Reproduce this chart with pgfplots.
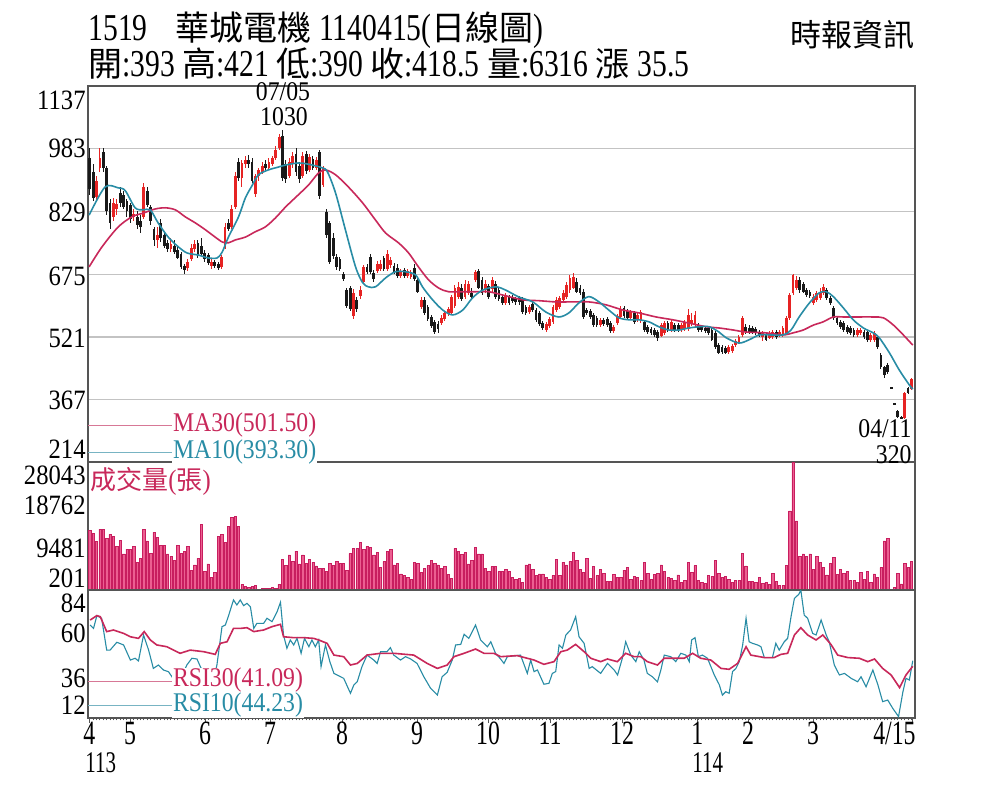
\documentclass[border=0pt]{standalone}
\usepackage{fontspec}
\setmainfont{Liberation Serif}
\newfontfamily\lbl[FakeStretch=0.88]{Liberation Serif}
\newfontfamily\ttl[FakeStretch=0.78]{Liberation Serif}
\newfontfamily\mon[FakeStretch=0.7]{Liberation Serif}
\newfontfamily\cjk{Noto Sans CJK TC}
\usepackage{pgfplots}
\usepackage{pgfplotstable}
\pgfplotsset{compat=1.18}
\definecolor{cred}{RGB}{230,35,35}
\definecolor{cblk}{RGB}{25,25,25}
\definecolor{ma30c}{RGB}{200,40,90}
\definecolor{ma10c}{RGB}{40,140,165}
\definecolor{ma30l}{RGB}{215,120,150}
\definecolor{ma10l}{RGB}{120,180,195}
\definecolor{gridc}{RGB}{195,195,195}
\definecolor{framec}{RGB}{85,85,85}
\definecolor{volf}{RGB}{236,95,145}
\definecolor{vold}{RGB}{200,30,95}
\newcommand\C[1]{{\cjk\fontsize{17pt}{17pt}\selectfont #1}}

\pgfplotstableread{
i o h l c v
0 960 985 870 885 13146
1 925 945 855 862 12420
2 865 915 858 905 10590
3 935 985 925 960 13360
4 975 985 925 935 13360
5 935 940 820 830 11320
6 850 860 785 800 12200
7 815 862 805 850 11830
8 835 860 820 848 9500
9 875 890 840 850 10950
10 870 880 835 840 7890
11 855 860 815 830 8980
12 845 850 800 810 8980
13 815 835 805 822 9640
14 815 830 785 795 6060
15 805 820 775 790 6940
16 815 900 810 890 13360
17 880 890 840 845 10740
18 840 845 795 805 8030
19 785 790 745 760 12640
20 760 790 740 770 11540
21 800 810 755 765 9860
22 770 780 740 745 9860
23 752 760 730 738 7890
24 738 765 730 748 7450
25 745 760 725 730 6570
26 735 745 712 715 9860
27 725 730 688 692 8030
28 695 700 675 685 8400
29 690 712 682 705 9640
30 712 748 708 740 4380
31 738 758 730 748 5480
32 752 760 715 722 6940
33 745 765 720 725 14390
34 728 735 705 713 4160
35 722 728 698 702 5700
36 695 712 688 705 2700
37 705 710 690 695 3870
38 700 705 685 690 11830
39 692 722 688 718 12200
40 745 800 738 790 10440
41 800 810 780 785 14020
42 790 845 785 835 15850
43 840 925 835 915 16210
44 950 960 905 910 13880
45 910 955 890 948 1240
46 945 965 935 955 730
47 955 968 935 945 510
48 950 960 900 905 730
49 872 920 865 915 950
50 915 935 905 930 150
51 925 950 920 940 370
52 945 955 925 935 370
53 935 960 930 950 370
54 945 965 940 960 510
55 960 990 955 980 370
56 985 1020 980 1012 1240
57 1015 1030 905 910 6790
58 945 955 900 908 5330
59 915 960 910 950 7670
60 945 975 935 965 6350
61 970 985 915 925 8540
62 940 950 900 908 5700
63 915 975 910 965 7670
64 970 978 920 928 5840
65 930 970 925 962 6720
66 958 965 930 935 6060
67 935 962 930 955 5260
68 975 980 860 868 4750
69 895 940 890 935 4750
70 828 835 765 772 4160
71 800 805 700 705 5840
72 765 775 712 720 5330
73 718 725 685 692 6350
74 712 718 682 688 5770
75 675 680 658 662 5840
76 636 642 592 598 4240
77 640 645 585 590 7960
78 572 638 565 630 9130
79 612 618 582 590 9130
80 622 645 615 635 10370
81 655 698 650 692 8910
82 692 700 675 680 9500
83 718 725 675 680 9280
84 678 685 655 662 7670
85 683 708 678 700 8180
86 688 710 683 700 4890
87 715 720 682 687 6210
88 688 735 683 725 8400
89 697 718 690 710 8980
90 695 702 675 680 5480
91 690 700 665 670 5840
92 670 688 665 682 3510
93 685 690 665 670 3140
94 670 688 665 682 2770
95 668 685 663 678 2410
96 690 700 658 662 6060
97 660 665 628 632 5840
98 595 620 590 612 3870
99 612 618 575 580 4750
100 595 600 560 565 5330
101 570 575 542 548 6430
102 558 562 528 533 5840
103 553 560 530 540 5480
104 555 575 550 568 4750
105 565 585 560 580 5110
106 578 595 572 590 3430
107 580 625 575 620 2560
108 598 648 592 640 9130
109 620 655 615 643 8400
110 640 650 610 615 7820
111 620 660 615 652 8180
112 630 658 625 652 5700
113 630 640 615 620 6570
114 660 685 655 680 9350
115 682 688 638 642 7890
116 660 668 625 630 7890
117 637 660 630 652 4750
118 645 652 615 620 4020
119 638 668 632 660 5110
120 652 658 615 620 5110
121 635 640 610 615 4020
122 620 625 600 605 4020
123 605 628 600 622 4600
124 618 625 600 605 4160
125 618 625 605 610 2770
126 615 620 600 606 2410
127 618 622 600 606 2560
128 612 618 578 582 1610
129 595 600 575 580 5480
130 583 600 578 595 5700
131 602 608 582 587 4530
132 587 592 558 563 3140
133 580 585 548 552 3510
134 555 560 538 543 3510
135 538 558 533 552 2700
136 548 570 543 565 2410
137 558 600 553 595 3140
138 587 618 582 612 6790
139 595 622 590 617 3140
140 612 635 608 629 6060
141 620 655 615 649 5480
142 636 672 630 666 6210
143 642 678 638 668 8180
144 657 665 628 632 6570
145 641 648 625 630 4600
146 632 638 565 570 3800
147 587 592 575 580 6940
148 585 590 565 570 2560
149 575 580 545 550 5110
150 568 572 545 550 3140
151 550 568 545 563 4530
152 563 568 548 552 3650
153 565 570 545 550 1900
154 555 560 530 535 1900
155 535 550 530 545 3430
156 555 578 550 573 2770
157 570 598 565 590 2770
158 592 598 568 572 4380
159 585 590 563 568 4890
160 568 588 563 582 2410
161 580 585 553 558 2990
162 563 580 558 575 2700
163 560 588 555 582 2040
164 558 562 533 538 6060
165 545 550 528 533 3650
166 540 545 525 530 2340
167 538 542 522 526 3430
168 533 538 512 518 3650
169 524 555 520 550 5480
170 530 560 526 555 4020
171 555 560 533 538 2770
172 538 563 533 558 2560
173 550 555 533 538 2190
174 550 555 533 538 3290
175 538 555 533 550 1750
176 540 563 535 558 2040
177 540 590 535 575 6060
178 552 580 548 563 3870
179 550 585 545 575 5330
180 550 555 533 538 2190
181 545 550 533 538 1750
182 543 548 530 535 1390
183 542 548 525 530 3140
184 538 542 510 514 2990
185 531 535 492 497 6430
186 501 506 478 482 3650
187 496 500 478 483 2770
188 494 498 478 482 2990
189 485 502 480 497 2410
190 487 503 482 498 1750
191 500 516 496 512 2190
192 508 525 503 520 2190
193 526 572 520 568 8030
194 546 553 528 533 5260
195 543 550 528 533 1900
196 543 548 528 533 1900
197 541 546 526 531 1610
198 533 538 520 526 2770
199 521 536 512 531 1390
200 526 530 510 514 1750
201 519 536 515 531 1240
202 521 538 517 533 3650
203 533 538 517 521 1900
204 526 538 521 533 1020
205 526 548 521 543 950
206 531 572 526 568 5330
207 568 630 563 624 17310
208 629 676 624 673 27970
209 640 670 635 660 15120
210 661 668 630 636 7300
211 650 655 628 632 7890
212 636 642 620 624 7300
213 632 636 617 622 7890
214 605 626 600 620 4530
215 612 634 607 629 7300
216 617 640 612 632 6060
217 629 650 624 644 4960
218 636 642 612 617 3290
219 617 622 600 605 5840
220 592 598 563 568 7160
221 568 572 550 556 3430
222 558 563 541 546 4600
223 555 560 533 538 3650
224 546 550 528 533 4020
225 543 548 526 531 2040
226 538 543 521 526 2040
227 526 543 521 538 1750
228 531 543 526 538 3870
229 533 538 517 521 2410
230 533 538 509 514 4020
231 514 531 509 526 1610
232 514 536 509 531 3510
233 521 526 492 497 2800
234 477 482 442 447 4890
235 447 450 420 428 10740
236 452 458 430 435 11320
237 397.5 397.5 394.5 394.5 100
238 358 358 355 355 510
239 338 342 321 325 3650
240 324 326 320 321 1320
241 322 386 320 383 5840
242 395 398 380 383 4960
243 393 421 390 418.5 6316
}\price

\pgfplotsset{
  panel/.style={scale only axis, width=413.5pt, xmin=-0.53, xmax=244.07,
    anchor=south west, axis line style={draw=framec, line width=0.75pt},
    xtick=\empty},
  candle/.style={only marks, mark=*, mark size=0pt,
    mark options={draw opacity=0, fill opacity=0},
    error bars/y dir=both, error bars/y explicit, error bars/error mark=none},
}

\begin{document}
\begin{tikzpicture}
\useasboundingbox (0,0) rectangle (500pt,400pt);
\fill[white] (0,0) rectangle (500pt,400pt);

% ---------- price panel ----------
\begin{axis}[panel, at={(44pt,169pt)}, height=188pt, ymin=214, ymax=1137,
  ytick={367,521,675,829,983}, yticklabels={}, major tick length=0pt,
  ymajorgrids, grid style={gridc, line width=0.7pt}]
\addplot[candle, error bars/error bar style={cred, line width=0.5pt}]
  table[x=i, y expr={\thisrow{c}>=\thisrow{o} ? 0.5*(\thisrow{h}+\thisrow{l}) : nan},
        y error expr={0.5*(\thisrow{h}-\thisrow{l})}] \price;
\addplot[candle, error bars/error bar style={cred, line width=1.4pt}]
  table[x=i, y expr={\thisrow{c}>=\thisrow{o} ? 0.5*(\thisrow{o}+\thisrow{c}) : nan},
        y error expr={max(0.5*abs(\thisrow{c}-\thisrow{o}),1.5)}] \price;
\addplot[candle, error bars/error bar style={cblk, line width=0.5pt}]
  table[x=i, y expr={\thisrow{c}<\thisrow{o} ? 0.5*(\thisrow{h}+\thisrow{l}) : nan},
        y error expr={0.5*(\thisrow{h}-\thisrow{l})}] \price;
\addplot[candle, error bars/error bar style={cblk, line width=1.4pt}]
  table[x=i, y expr={\thisrow{c}<\thisrow{o} ? 0.5*(\thisrow{o}+\thisrow{c}) : nan},
        y error expr={max(0.5*abs(\thisrow{c}-\thisrow{o}),1.5)}] \price;
% MA30
\addplot[ma30c, line width=0.8pt, smooth, tension=0.5] coordinates {
(-0.2,693)(3.6,742)(8.4,791)(12.5,816)(15.8,825)(19.3,835)(22.3,838)(25.3,833)(28.2,816)(31.2,801)(34.2,784)(37.1,766)(39.2,754)(41.0,752)(43.0,759)(46.0,766)(48.9,779)(51.9,791)(54.9,813)(57.9,840)(61.7,870)(64.7,894)(67.6,923)(69.7,931)(72.7,919)(76.5,889)(80.7,850)(84.5,808)(87.5,776)(91.3,752)(94.3,727)(97.2,693)(100.2,661)(103.2,641)(106.1,632)(110.3,632)(114.1,632)(118.0,632)(123.0,622)(128.1,612)(132.8,610)(137.8,607)(142.9,607)(147.6,607)(152.6,600)(157.7,587)(162.4,580)(167.5,570)(172.5,563)(177.2,555)(182.3,546)(186.1,543)(190.3,538)(194.1,533)(200.0,531)(205.1,526)(208.0,531)(211.0,538)(214.0,550)(216.9,558)(219.9,570)(222.9,570)(226.7,570)(231.7,570)(234.7,568)(237.7,550)(240.6,526)(243.4,501)};
% MA10
\addplot[ma10c, line width=0.8pt, smooth, tension=0.5] coordinates {
(-0.2,820)(4.5,889)(8.4,887)(10.5,880)(13.4,838)(15.8,833)(17.9,833)(20.2,801)(23.2,766)(26.2,742)(28.8,727)(32.1,722)(35.0,715)(37.7,715)(39.2,730)(41.0,766)(44.0,816)(46.0,862)(48.1,894)(49.9,919)(52.8,931)(55.8,938)(57.9,943)(61.7,948)(64.7,945)(68.8,936)(70.3,926)(72.7,874)(75.6,784)(78.6,693)(80.7,654)(82.4,644)(84.5,644)(87.5,666)(90.4,681)(93.4,681)(96.4,673)(98.4,644)(101.4,612)(104.4,587)(107.3,575)(110.3,587)(113.2,617)(116.2,636)(120.1,644)(123.0,636)(126.9,619)(131.0,607)(134.9,582)(138.7,570)(141.7,580)(144.6,604)(147.6,620)(150.6,607)(153.5,587)(156.5,568)(159.5,563)(162.4,563)(165.4,558)(168.3,546)(171.3,538)(174.3,538)(177.2,543)(180.2,546)(183.2,546)(186.1,533)(188.2,519)(192.0,506)(195.0,514)(198.0,526)(200.9,526)(205.1,526)(207.4,538)(209.8,570)(212.8,604)(215.7,629)(217.8,632)(219.9,620)(222.9,592)(225.8,563)(228.8,543)(231.7,531)(233.5,519)(236.5,482)(239.4,440)(242.4,403)(243.4,393)};
\end{axis}

% ---------- volume panel ----------
\begin{axis}[panel, at={(44pt,105pt)}, height=64pt, ymin=0, ymax=28043,
  ytick=\empty]
\addplot[ybar, bar width=1.15pt, fill=volf, draw=vold, line width=0.25pt]
  table[x=i, y=v] \price;
\end{axis}

% ---------- RSI panel ----------
\begin{axis}[panel, at={(44pt,41pt)}, height=64pt, ymin=12, ymax=84,
  ytick=\empty,
  xtick={0,12,34.2,53.4,74.7,96.9,117.9,136.2,157.5,179.6,194.7,213.9,243.2},
  xticklabels={}, minor xtick={0,1,...,243}, xtick pos=left,
  tick align=outside, major tick length=2.6pt, minor tick length=1.2pt,
  tick style={framec, line width=0.5pt}]
\addplot[ma10c, line width=0.55pt] coordinates {
(0.1,64.3)(1.1,62.4)(2.1,69.6)(3.5,68.1)(5.0,50.2)(6.0,50.2)(8.0,54.6)(10.0,53.1)(12.0,44.6)(13.4,45.6)(14.4,44.1)(15.9,58.7)(17.4,50.2)(18.8,39.9)(20.3,41.8)(21.8,39.0)(23.3,38.0)(25.3,32.4)(27.3,36)(28.7,41.8)(30.2,45.6)(31.7,45.2)(32.7,40.9)(34.5,34)(36.5,33)(37.6,41.8)(39.1,63.4)(40.1,64.3)(41.1,69.9)(42.5,78.4)(43.5,75.6)(44.5,78.4)(45.5,75.2)(46.5,76.5)(47.5,74.6)(48.5,62.4)(49.4,65.2)(51.4,65.2)(52.4,68.1)(53.9,66.2)(55.4,71.8)(56.4,77.1)(57.3,58.7)(58.3,51.2)(59.3,55.9)(60.3,53.1)(61.3,56.8)(62.5,48.4)(63.5,56.8)(64.8,52.1)(65.7,55.9)(66.7,52.1)(67.7,55.9)(68.4,40.9)(69.7,53.1)(71.0,43.7)(72.2,37.1)(75.1,34.3)(77.1,25.9)(78.1,30.6)(79.1,32.4)(80.5,40.9)(82.0,47.4)(84.0,44.6)(85.0,42.7)(86.0,49.3)(87.9,49.3)(88.9,51.6)(89.9,47.4)(91.9,44.6)(93.4,46.5)(94.9,45.2)(96.8,42.7)(98.8,35.2)(100.8,28.7)(102.8,24.9)(104.2,35.2)(105.7,37.7)(107.2,44.6)(108.2,53.1)(109.7,53.4)(110.7,59.1)(112.1,56.8)(114.1,64.3)(115.6,55.9)(116.6,54.0)(117.6,52.1)(118.6,54.9)(120.0,48.4)(121.5,45.2)(122.5,42.7)(123.5,46.5)(127.4,47.4)(129.4,37.1)(130.4,44.6)(131.4,38.1)(132.4,39.0)(134.3,31.0)(135.8,31.5)(136.8,37.1)(137.8,38.1)(138.8,53.1)(139.8,51.2)(140.8,58.7)(142.2,61.5)(143.7,69.0)(144.7,57.7)(146.2,54.0)(147.7,39.9)(148.6,40.9)(151.1,37.1)(153.1,42.7)(155.1,39.0)(156.1,36.2)(157.5,45.6)(158.5,54.9)(160.0,47.4)(161.5,43.7)(162.5,49.3)(163.9,44.6)(164.9,37.1)(166.4,35.2)(167.9,32.4)(168.9,39.0)(169.9,47.4)(171.8,46.5)(173.3,43.7)(174.8,48.4)(176.3,47.4)(177.3,43.7)(178.0,55.9)(179.0,57.2)(180.0,46.5)(181.2,47.4)(182.7,45.6)(184.7,36.2)(186.2,30.6)(187.1,24.9)(188.1,26.8)(189.1,25.9)(190.1,38.1)(191.1,39.9)(192.1,43.7)(193.1,53.1)(194.1,68.1)(195.0,54.9)(196.0,54.0)(197.5,53.1)(198.5,52.1)(199.5,46.0)(201.9,46.0)(202.9,54.0)(203.9,50.2)(205.4,54.9)(206.4,56.8)(207.4,69.0)(208.4,79.3)(209.7,81.6)(210.3,84.0)(211.3,69.9)(212.3,68.1)(213.8,59.6)(214.8,58.7)(216.3,67.1)(217.8,58.7)(218.7,54.9)(220.2,41.8)(221.7,36.2)(223.2,37.1)(225.2,34.3)(227.1,32.4)(228.1,35.2)(229.6,29.6)(231.6,39.0)(233.1,30.6)(234.5,21.2)(236.0,22.1)(237.5,17.4)(239.2,12.8)(240.5,26.8)(241.4,34.3)(242.4,33.4)(243.4,44.2)};
\addplot[ma30c, line width=0.8pt] coordinates {
(0.1,67.1)(2.1,69.6)(3.1,69.0)(5.0,60.6)(7.0,61.5)(10,59.6)(12,57.7)(14.4,56.8)(16.1,60.6)(17.9,55.9)(19.8,53.1)(22.8,52.1)(26.7,48.4)(29.7,50.2)(33.7,49.3)(37.1,47.8)(38.6,54.0)(40.6,54.9)(42.5,62.4)(44.5,62.4)(46.5,62.8)(48.5,60.6)(51.4,61.5)(53.9,63.4)(56.4,64.7)(57.3,57.7)(60.3,57.2)(63.3,57.2)(66.2,56.8)(67.7,55.9)(70.2,54.0)(72.2,47.4)(75.1,46.5)(77.1,41.8)(79.1,42.7)(82.0,47.4)(86.0,48.4)(89.9,48.4)(95.8,47.4)(99.8,42.7)(102.8,39.9)(105.7,41.8)(107.7,46.5)(110.7,48.4)(114.1,50.8)(116.6,48.4)(119.5,48.4)(121.5,46.5)(126.4,47.1)(129.4,45.6)(131.4,44.6)(134.3,42.2)(137.3,43.7)(139.3,49.3)(141.2,50.2)(143.7,53.4)(146.2,49.3)(148.2,45.6)(151.1,43.7)(153.1,45.2)(156.0,43.7)(158.5,48.4)(161.0,46.5)(163.0,46.5)(164.9,43.7)(167.9,41.8)(169.9,45.6)(172.8,45.6)(175.8,45.6)(178.3,48.4)(180.7,45.6)(183.7,44.6)(186.7,39.9)(189.1,39.4)(191.6,42.7)(194.1,52.1)(195.5,47.4)(199.5,46.0)(202.4,46.0)(204.4,47.8)(206.4,48.4)(208.4,58.7)(210.3,62.8)(212.3,58.7)(214.8,55.9)(216.8,58.7)(219.2,53.4)(221.2,47.4)(224.2,46.0)(227.6,45.6)(230.1,43.7)(232.1,45.2)(234.5,39.9)(237.0,36.2)(239.5,29.1)(241.4,36.2)(243.4,41.1)};
\end{axis}

% ---------- titles ----------
\node[anchor=base west, inner sep=0, font=\ttl\fontsize{19pt}{19pt}\selectfont]
  at (44pt,379.5pt) {1519\hspace{14pt}\C{華城電機} 1140415(\C{日線圖})};
\node[anchor=base west, inner sep=0, font=\ttl\fontsize{19pt}{19pt}\selectfont]
  at (44pt,361.5pt) {\C{開}:393 \C{高}:421 \C{低}:390 \C{收}:418.5 \C{量}:6316 \C{漲} 35.5};
\node[anchor=base east, inner sep=0, font=\cjk\fontsize{15.5pt}{15.5pt}\selectfont]
  at (457.5pt,377pt) {時報資訊};

% ---------- y tick labels ----------
\begin{scope}[every node/.style={anchor=east, inner sep=0, font=\lbl\fontsize{14pt}{14pt}\selectfont}]
\node at (43pt,350pt) {1137};
\node at (43pt,326pt) {983};
\node at (43pt,294pt) {829};
\node at (43pt,262pt) {675};
\node at (43pt,231pt) {521};
\node at (43pt,200pt) {367};
\node at (43pt,175.5pt) {214};
\node at (43pt,162.5pt) {28043};
\node at (43pt,147.5pt) {18762};
\node at (43pt,126pt) {9481};
\node at (43pt,111pt) {201};
\node at (43pt,98.5pt) {84};
\node at (43pt,83.5pt) {60};
\node at (43pt,61pt) {36};
\node at (43pt,47.5pt) {12};
\end{scope}

% ---------- x labels ----------
\begin{scope}[every node/.style={anchor=base, inner sep=0, font=\mon\fontsize{17pt}{17pt}\selectfont}]
\node[anchor=base west] at (41.5pt,28pt) {4};
\node at (65pt,28pt) {5};
\node at (102.5pt,28pt) {6};
\node at (135pt,28pt) {7};
\node at (171pt,28pt) {8};
\node at (208.5pt,28pt) {9};
\node at (244pt,28pt) {10};
\node at (275pt,28pt) {11};
\node at (311pt,28pt) {12};
\node at (348.7pt,28pt) {1};
\node at (374pt,28pt) {2};
\node at (406.5pt,28pt) {3};
\node[anchor=base east] at (458pt,28pt) {4/15};
\end{scope}
\node[anchor=base west, inner sep=0, font=\mon\fontsize{15pt}{15pt}\selectfont] at (42.5pt,14pt) {113};
\node[anchor=base west, inner sep=0, font=\mon\fontsize{15pt}{15pt}\selectfont] at (346pt,14pt) {114};

% ---------- annotations ----------
\begin{scope}[every node/.style={inner sep=0, font=\lbl\fontsize{13.5pt}{13.5pt}\selectfont}]
\node[anchor=base] at (141.5pt,349.5pt) {07/05};
\node[anchor=base] at (142pt,337.5pt) {1030};
\node[anchor=east] at (456pt,185.5pt) {04/11};
\node[anchor=east] at (456pt,172.5pt) {320};
\end{scope}

% ---------- legends ----------
\draw[ma30l, line width=0.5pt] (44pt,187.5pt) -- (86pt,187.5pt);
\draw[ma10l, line width=0.5pt] (44pt,174pt) -- (86pt,174pt);
\draw[ma30l, line width=0.5pt] (44pt,59.5pt) -- (86pt,59.5pt);
\draw[ma10l, line width=0.5pt] (44pt,47.5pt) -- (86pt,47.5pt);
\begin{scope}[every node/.style={anchor=west, inner sep=0.3pt, fill=white, font=\lbl\fontsize{13.5pt}{13.5pt}\selectfont}]
\node[text=ma30c] at (86pt,187.5pt) {MA30(501.50)};
\node[text=ma10c] at (86pt,174pt) {MA10(393.30)};
\node[text=ma30c] at (86pt,59.8pt) {RSI30(41.09)};
\node[text=ma10c] at (86pt,47.3pt) {RSI10(44.23)};
\end{scope}
\node[anchor=west, inner sep=0, text=ma30c, font=\cjk\fontsize{13pt}{13pt}\selectfont]
  at (45pt,159.5pt) {成交量{\lbl\fontsize{14pt}{14pt}\selectfont(}張{\lbl\fontsize{14pt}{14pt}\selectfont)}};
\end{tikzpicture}
\end{document}
